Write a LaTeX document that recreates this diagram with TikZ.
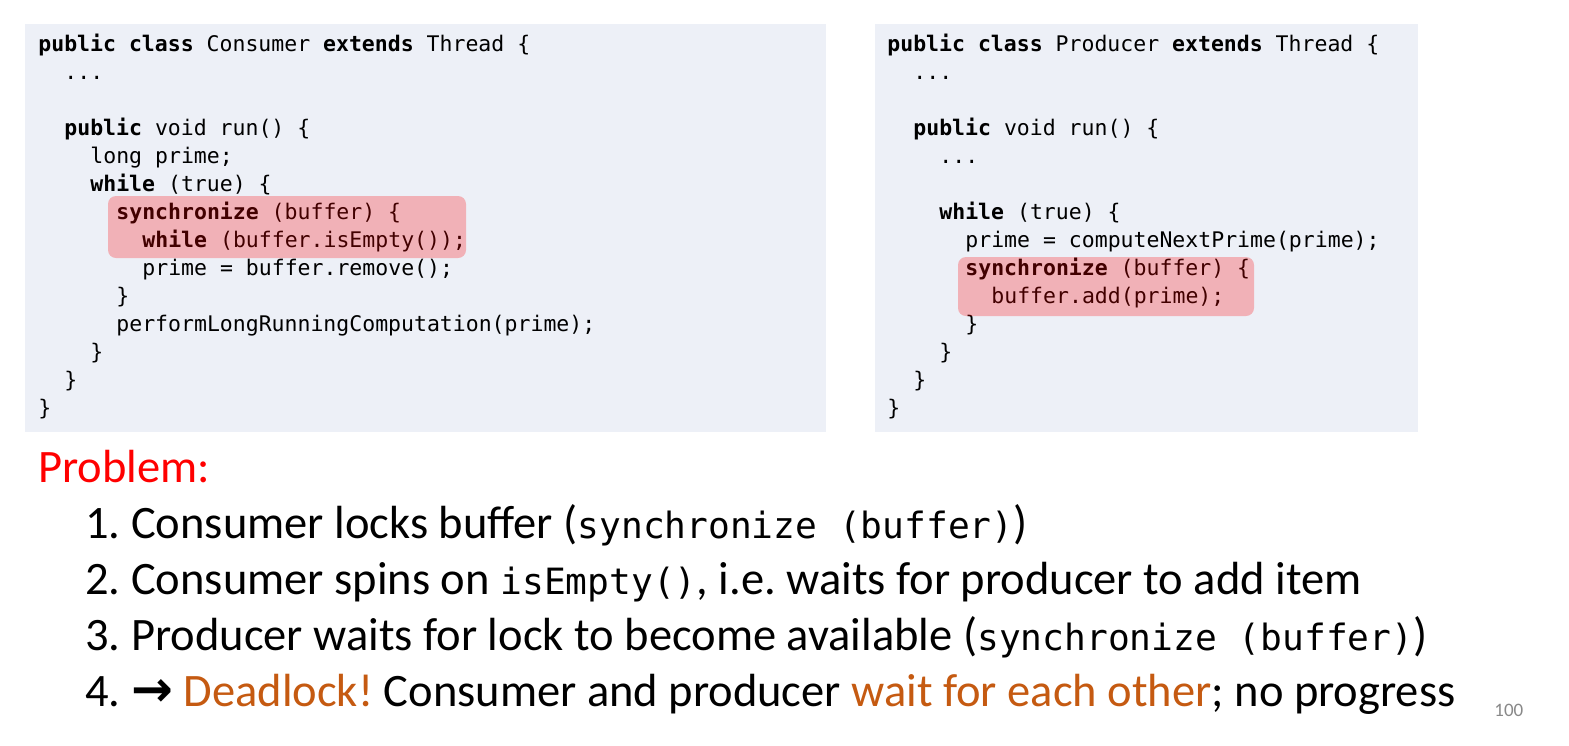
\documentclass[tikz,border=0pt]{standalone}
\usepackage{fontspec}
\setmainfont{Carlito}
\setmonofont{DejaVu Sans Mono}
\newfontfamily\arrowfont{DejaVu Sans}
\frenchspacing
\definecolor{codebg}{RGB}{237,240,247}
\definecolor{hlred}{RGB}{255,0,0}
\definecolor{accorange}{RGB}{197,90,17}
\definecolor{pagegray}{RGB}{137,137,137}
\tikzset{
  codeline/.style={anchor=base west, inner sep=0pt, font=\fontsize{10.75pt}{14pt}\ttfamily},
  codebox/.style={fill=codebg, draw=none},
  hlbox/.style={fill=hlred, fill opacity=0.26, draw=none, rounded corners=4pt},
  textline/.style={anchor=base west, inner sep=0pt, font=\fontsize{23.25pt}{28pt}\selectfont},
}
\newcommand{\inmono}[1]{{\fontsize{18.1pt}{22pt}\ttfamily #1}}
\begin{document}
\begin{tikzpicture}[x=0.5pt,y=-0.5pt]
\useasboundingbox (0,0) rectangle (1569,745);
\fill[white] (0,0) rectangle (1569,745);
% code boxes
\path[codebox] (25,24) rectangle (826,432);
\path[codebox] (875,24) rectangle (1418,432);
% Consumer code
\node[codeline] (c1) at (38,51) {\textbf{public class} Consumer \textbf{extends} Thread \{};
\node[codeline] (c2) at (64,79) {...};
\node[codeline] (c4) at (64,135) {\textbf{public} void run() \{};
\node[codeline] (c5) at (90,163) {long prime;};
\node[codeline] (c6) at (90,191) {\textbf{while} (true) \{};
\node[codeline] (c7) at (116,219) {\textbf{synchronize} (buffer) \{};
\node[codeline] (c8) at (142,247) {\textbf{while} (buffer.isEmpty());};
\node[codeline] (c9) at (142,275) {prime = buffer.remove();};
\node[codeline] (c10) at (116,303) {\}};
\node[codeline] (c11) at (116,331) {performLongRunningComputation(prime);};
\node[codeline] (c12) at (90,359) {\}};
\node[codeline] (c13) at (64,387) {\}};
\node[codeline] (c14) at (38,415) {\}};
% Producer code
\node[codeline] (p1) at (887,51) {\textbf{public class} Producer \textbf{extends} Thread \{};
\node[codeline] (p2) at (913,79) {...};
\node[codeline] (p4) at (913,135) {\textbf{public} void run() \{};
\node[codeline] (p5) at (939,163) {...};
\node[codeline] (p7) at (939,219) {\textbf{while} (true) \{};
\node[codeline] (p8) at (965,247) {prime = computeNextPrime(prime);};
\node[codeline] (p9) at (965,275) {\textbf{synchronize} (buffer) \{};
\node[codeline] (p10) at (991,303) {buffer.add(prime);};
\node[codeline] (p11) at (965,331) {\}};
\node[codeline] (p12) at (939,359) {\}};
\node[codeline] (p13) at (913,387) {\}};
\node[codeline] (p14) at (887,415) {\}};
% highlights
\path[hlbox] (108,196) rectangle (466,258);
\path[hlbox] (958,257) rectangle (1254,316);
% Problem text
\node[textline, text=red] (prob) at (38,482) {Problem:};
\node[textline] (l1) at (85,538) {1. Consumer locks buffer (\inmono{synchronize (buffer)})};
\node[textline] (l2) at (85,594) {2. Consumer spins on \inmono{isEmpty()}, i.e. waits for producer to add item};
\node[textline] (l3) at (85,650) {3. Producer waits for lock to become available (\inmono{synchronize (buffer)})};
\node[textline] (l4) at (85,706) {4. {\arrowfont\bfseries\fontsize{25pt}{28pt}\selectfont →} \textcolor{accorange}{Deadlock!} Consumer and producer \textcolor{accorange}{wait for each other}; no progress};
\node[anchor=base west, inner sep=0pt, text=pagegray, font=\fontsize{9.5pt}{11pt}\selectfont] (pg) at (1494,716) {100};
\end{tikzpicture}
\end{document}
